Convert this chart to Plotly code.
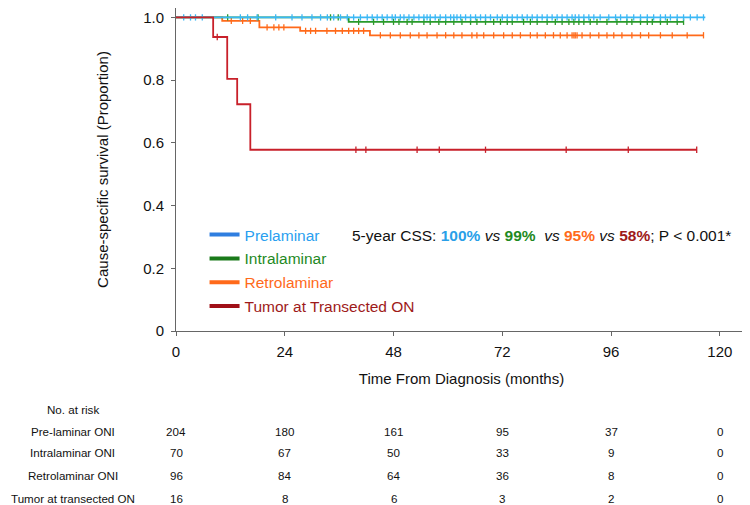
import bisect
import plotly.graph_objects as go

# Kaplan-Meier steps (months, proportion surviving)
pre_t = [0, 116.8]
pre_s = [1.0, 1.0]
intra_t = [0, 38.1, 112.0]
intra_s = [1.0, 0.986, 0.986]
retro_t = [0, 10.2, 18.4, 27.4, 42.8, 116.4]
retro_s = [1.0, 0.989, 0.968, 0.957, 0.943, 0.943]
tumor_t = [0, 8.2, 11.3, 13.5, 16.4, 114.9]
tumor_s = [1.0, 0.9375, 0.804, 0.723, 0.578, 0.578]

# censored observations (months)
pre_cens = [1.7, 3.2, 4.3, 5.8, 14.2, 15.8, 17.9, 22.0, 25.6, 27.8, 30.0, 31.9, 33.4,
            34.8, 36.3, 37.8, 39.2, 40.7, 42.2, 43.3, 44.4, 45.5, 46.6, 47.7, 48.4,
            49.5, 50.3, 51.4, 52.5, 53.6, 54.7, 55.4, 56.1, 57.2, 58.3, 59.5, 60.6,
            61.3, 62.0, 62.8, 63.9, 65.0, 66.1, 67.2, 68.3, 69.4, 70.9, 72.0, 73.1,
            74.2, 75.3, 76.4, 77.5, 78.6, 79.7, 80.8, 81.9, 83.0, 84.1, 85.2, 86.3,
            87.4, 88.1, 88.9, 90.0, 91.1, 92.2, 93.6, 95.5, 97.0, 98.1, 99.5, 101.0,
            102.5, 104.0, 105.4, 106.9, 108.0, 109.1, 110.6, 112.0, 113.5, 115.0, 116.4]
intra_cens = [11.4, 18.1, 34.1, 35.8, 40.3, 43.6, 45.8, 48.0, 49.2, 51.0, 52.1, 54.7,
              56.1, 58.0, 59.5, 61.3, 63.1, 65.0, 66.4, 68.3, 70.1, 71.6, 73.1, 74.2,
              76.7, 78.2, 79.7, 81.9, 83.7, 85.2, 86.7, 87.8, 88.9, 90.0, 91.4, 92.9,
              95.1, 97.3, 99.5, 100.6, 102.5, 104.0, 105.1, 106.9, 108.4, 110.6, 112.0]
retro_cens = [12.2, 14.7, 16.4, 20.1, 21.6, 22.7, 23.8, 28.6, 29.7, 30.8, 33.3, 35.2,
              36.7, 38.1, 39.2, 40.3, 41.4, 45.1, 47.3, 49.5, 51.7, 53.6, 55.4, 57.6,
              59.5, 61.3, 63.1, 65.3, 66.4, 67.9, 70.1, 72.3, 74.2, 76.0, 78.2, 79.7,
              81.5, 83.3, 84.8, 86.3, 87.4, 87.8, 88.1, 88.5, 89.6, 91.4, 93.3, 95.1,
              96.6, 98.4, 100.6, 102.5, 104.3, 106.9, 109.5, 112.8, 116.4]
tumor_cens = [9.1, 39.7, 41.9, 53.2, 58.1, 68.3, 86.1, 99.8, 114.9]

# number at risk table
risk_times = [0, 24, 48, 72, 96, 120]
risk_labels = ["Pre-laminar ONI", "Intralaminar ONI", "Retrolaminar ONI", "Tumor at transected ON"]
risk_pre = [204, 180, 161, 95, 37, 0]
risk_intra = [70, 67, 50, 33, 9, 0]
risk_retro = [96, 84, 64, 36, 8, 0]
risk_tumor = [16, 8, 6, 3, 2, 0]

groups = [
    # name, times, surv, censored, curve colour, legend line colour, text colour
    ("Retrolaminar", retro_t, retro_s, retro_cens, "#ff6a1a", "#ff6a1a", "#ff6a1a"),
    ("Intralaminar", intra_t, intra_s, intra_cens, "#2a9a2a", "#1a7a1a", "#1f8a1f"),
    ("Prelaminar", pre_t, pre_s, pre_cens, "#3bb8f5", "#2f7ee0", "#2a9ff0"),
    ("Tumor at Transected ON", tumor_t, tumor_s, tumor_cens, "#c8202a", "#a01018", "#9e1a1a"),
]


def surv_at(times, surv, t):
    i = bisect.bisect_right(times, t) - 1
    return surv[max(i, 0)]


fig = go.Figure()

for name, t, s, cens, col, lcol, tcol in groups:
    fig.add_trace(go.Scatter(x=t, y=s, mode="lines", line=dict(color=col, width=1.8, shape="hv"),
                             showlegend=False, hoverinfo="skip"))
    fig.add_trace(go.Scatter(x=cens, y=[surv_at(t, s, c) for c in cens], mode="markers",
                             marker=dict(symbol="line-ns", size=4.5, line=dict(color=col, width=1.3)),
                             showlegend=False, hoverinfo="skip"))

# legend entries (own traces so the swatch is thick and the text coloured)
legend_order = ["Prelaminar", "Intralaminar", "Retrolaminar", "Tumor at Transected ON"]
for rank, lname in enumerate(legend_order):
    g = [g for g in groups if g[0] == lname][0]
    fig.add_trace(go.Scatter(x=[None], y=[None], mode="lines",
                             line=dict(color=g[5], width=4),
                             name='<span style="color:%s">%s</span>' % (g[6], lname),
                             legendgroup=lname, legendrank=rank))

# 5-year CSS text
css = ('5-year CSS: <b><span style="color:#2a9fe8">100%</span></b> <i>vs</i> '
       '<b><span style="color:#1f8a1f">99%</span></b>  <i>vs</i> '
       '<b><span style="color:#ff6a1a">95%</span></b> <i>vs</i> '
       '<b><span style="color:#9e1a1a">58%</span></b>; P &lt; 0.001*')
fig.add_annotation(x=0.305, y=0.297, xref="paper", yref="paper", xanchor="left", yanchor="middle",
                   text=css, showarrow=False, font=dict(size=15.5, color="#111"))

# risk table
tbl_font = dict(size=11.6, color="#111")
lab_x = -0.1804
fig.add_annotation(x=lab_x, y=-0.2424, xref="paper", yref="paper", xanchor="center",
                   yanchor="middle", text="No. at risk", showarrow=False, font=tbl_font)
rows = [risk_pre, risk_intra, risk_retro, risk_tumor]
row_y = [-0.3118, -0.3777, -0.4489, -0.518]
for lab, vals, yy in zip(risk_labels, rows, row_y):
    fig.add_annotation(x=lab_x, y=yy, xref="paper", yref="paper", xanchor="center",
                       yanchor="middle", text=lab, showarrow=False, font=tbl_font)
    for tm, v in zip(risk_times, vals):
        fig.add_annotation(x=tm, y=yy, xref="x", yref="paper", xanchor="center",
                           yanchor="middle", text=str(v), showarrow=False, font=tbl_font)

fig.update_layout(
    width=750, height=505,
    margin=dict(l=168, r=11, t=0, b=182),
    paper_bgcolor="white", plot_bgcolor="white",
    font=dict(family="Liberation Sans, Arial, sans-serif", color="#111"),
    legend=dict(x=0.05, y=0.35, xanchor="left", yanchor="top", bgcolor="rgba(0,0,0,0)",
                font=dict(size=15.5), tracegroupgap=0.7, traceorder="grouped"),
    xaxis=dict(range=[0, 126], tickvals=[0, 24, 48, 72, 96, 120], showgrid=False, zeroline=False,
               showline=True, linecolor="#666", linewidth=1, ticks="outside", ticklen=4,
               tickcolor="#666", tickfont=dict(size=15, color="#111"), automargin=False,
               ticklabelstandoff=3,
               title=dict(text="Time From Diagnosis (months)", font=dict(size=15), standoff=14)),
    yaxis=dict(range=[0, 1.03], tickvals=[0, 0.2, 0.4, 0.6, 0.8, 1.0],
               ticktext=["0", "0.2", "0.4", "0.6", "0.8", "1.0"], showgrid=False, zeroline=False,
               showline=True, linecolor="#666", linewidth=1, ticks="outside", ticklen=4,
               tickcolor="#666", tickfont=dict(size=15, color="#111"), automargin=False,
               ticklabelstandoff=4,
               title=dict(text="Cause-specific survival (Proportion)", font=dict(size=15), standoff=30)),
)

fig.write_html("out.html")
